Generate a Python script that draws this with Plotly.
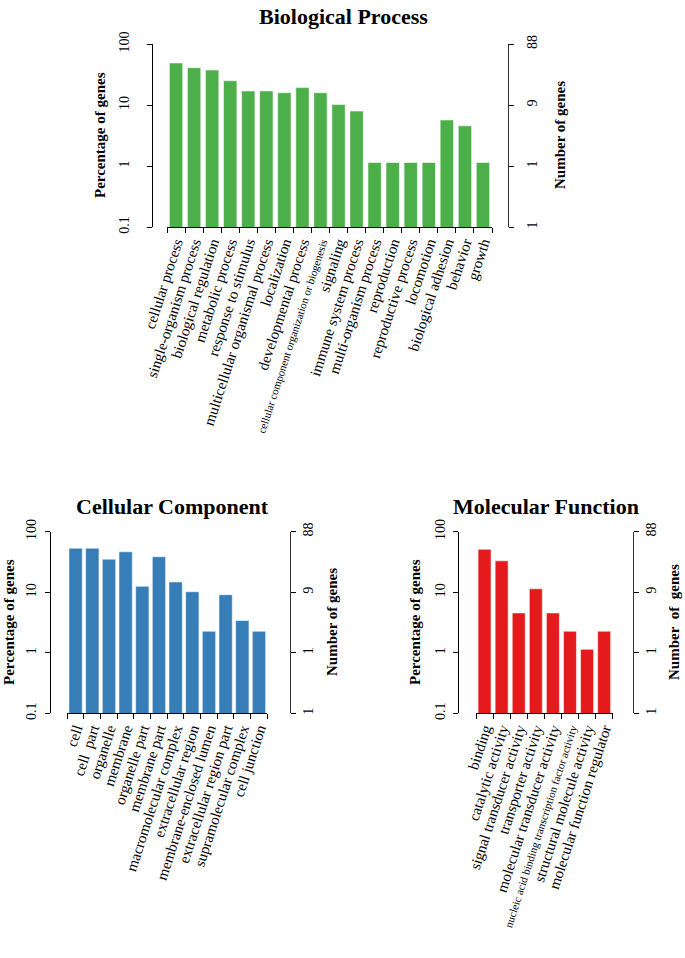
import plotly.graph_objects as go

# ---------------- data ----------------
bp_terms = ["cellular process", "single-organism process", "biological regulation",
            "metabolic process", "response to stimulus", "multicellular organismal process",
            "localization", "developmental process",
            "cellular component organization or biogenesis", "signaling",
            "immune system process", "multi-organism process", "reproduction",
            "reproductive process", "locomotion", "biological adhesion", "behavior", "growth"]
bp_pct = [48.9, 40.9, 37.5, 25.0, 17.0, 17.0, 15.9, 19.3, 15.9, 10.2,
          7.95, 1.14, 1.14, 1.14, 1.14, 5.68, 4.55, 1.14]

cc_terms = ["cell", "cell  part", "organelle", "membrane", "organelle part", "membrane part",
            "macromolecular complex", "extracellular region", "membrane-enclosed lumen",
            "extracellular region part", "supramolecular complex", "cell junction"]
cc_pct = [53.4, 53.4, 35.2, 46.6, 12.5, 38.6, 14.8, 10.2, 2.27, 9.09, 3.41, 2.27]

mf_terms = ["binding", "catalytic activity", "signal transducer activity",
            "transporter activity", "molecular transducer activity",
            "nucleic acid binding transcription factor activity",
            "structural molecule activity", "molecular function regulator"]
mf_pct = [51.1, 33.0, 4.55, 11.4, 4.55, 2.27, 1.14, 2.27]

pct_tickvals = [0.1, 1, 10, 100]
pct_ticktext = ["0.1", "1", "10", "100"]
num_ticktext = ["1", "1", "9", "88"]
small_terms = {"cellular component organization or biogenesis",
               "nucleic acid binding transcription factor activity"}

# ---------------- layout helpers ----------------
W, H = 685, 958
FONT = "Liberation Serif, Times New Roman, serif"


def fx(x):
    return x / W


def fy(y):
    return 1 - y / H


def label(t):
    small = t in small_terms
    t = t.replace("  ", "\u00a0 ")
    if small:
        return '<span style="font-size:11px">' + t + "</span>"
    return t


panels = [
    dict(terms=bp_terms, vals=bp_pct, color="#4DAF4A", width=0.74,
         xdom=(167, 492), ydom=(44, 227), ypos=152, y2pos=508,
         lso=12, rso=6,
         title="Biological Process", tpos=(343, 2),
         lt=(100, 135), rt=(560, 135), rtext="Number of genes"),
    dict(terms=cc_terms, vals=cc_pct, color="#377EB8", width=0.8,
         xdom=(67.3, 267.3), ydom=(531.7, 713.3), ypos=50, y2pos=290,
         lso=3, rso=0,
         title="Cellular Component", tpos=(172, 492),
         lt=(9, 622), rt=(332, 622), rtext="Number of genes"),
    dict(terms=mf_terms, vals=mf_pct, color="#E41A1C", width=0.76,
         xdom=(476, 612.7), ydom=(531.7, 713.3), ypos=458.3, y2pos=633.3,
         lso=3, rso=0,
         title="Molecular Function", tpos=(546, 492),
         lt=(415, 622), rt=(674, 622), rtext="Number\u00a0 of\u00a0 genes"),
]

fig = go.Figure()
annotations = []
layout = dict(width=W, height=H, margin=dict(l=0, r=0, t=0, b=0, pad=0, autoexpand=False),
              template="none",
              paper_bgcolor="white", plot_bgcolor="white", showlegend=False,
              font=dict(family=FONT, color="black", size=14))

for i, p in enumerate(panels):
    xn = "x" if i == 0 else f"x{i + 1}"
    yn = "y" if i == 0 else f"y{2 * i + 1}"
    y2n = f"y{2 * i + 2}"
    xkey = "xaxis" if i == 0 else f"xaxis{i + 1}"
    ykey = "yaxis" if i == 0 else f"yaxis{2 * i + 1}"
    y2key = f"yaxis{2 * i + 2}"

    fig.add_trace(go.Bar(x=p["terms"], y=p["vals"], xaxis=xn, yaxis=yn,
                         width=p["width"],
                         marker=dict(color=p["color"],
                                     line=dict(color="rgba(255,255,255,0.55)", width=1)),
                         hoverinfo="x+y"))
    fig.add_trace(go.Scatter(x=[p["terms"][0]], y=[1], xaxis=xn, yaxis=y2n,
                             mode="markers", marker=dict(opacity=0),
                             hoverinfo="skip"))

    layout[xkey] = dict(domain=[fx(p["xdom"][0]), fx(p["xdom"][1])], anchor=yn,
                        type="category", range=[-0.5, len(p["terms"]) - 0.5],
                        tickmode="array", tickvals=p["terms"],
                        ticktext=[label(t) for t in p["terms"]],
                        tickson="boundaries", ticks="outside", ticklen=5,
                        tickcolor="black", showline=True, linecolor="black",
                        linewidth=1, showgrid=False, tickangle=-72, automargin=False,
                        tickfont=dict(family=FONT, size=15, color="black"),
                        zeroline=False, fixedrange=True)
    layout[ykey] = dict(domain=[fy(p["ydom"][1]), fy(p["ydom"][0])], anchor="free",
                        position=fx(p["ypos"]), type="log", range=[-1, 2],
                        tickmode="array", tickvals=pct_tickvals, ticktext=pct_ticktext,
                        ticks="outside", ticklen=5, tickcolor="black",
                        ticklabelstandoff=p["lso"],
                        showline=True, linecolor="black", linewidth=1, automargin=False,
                        showgrid=False, zeroline=False, tickangle=-90,
                        tickfont=dict(family=FONT, size=14, color="black"),
                        fixedrange=True)
    layout[y2key] = dict(domain=[fy(p["ydom"][1]), fy(p["ydom"][0])], anchor="free",
                         overlaying=yn, side="right", automargin=False,
                         position=fx(p["y2pos"]), type="log", range=[-1, 2],
                         tickmode="array", tickvals=pct_tickvals, ticktext=num_ticktext,
                         ticks="outside", ticklen=5, tickcolor="black",
                         ticklabelstandoff=p["rso"],
                         showline=True, linecolor="#333333", linewidth=1,
                         showgrid=False, zeroline=False, tickangle=-90,
                         tickfont=dict(family=FONT, size=14, color="black"),
                         fixedrange=True)

    annotations.append(dict(text="<b>" + p["title"] + "</b>", xref="paper", yref="paper",
                            x=fx(p["tpos"][0]), y=fy(p["tpos"][1]), showarrow=False,
                            xanchor="center", yanchor="top",
                            font=dict(family=FONT, size=22, color="black")))
    annotations.append(dict(text="<b>Percentage of genes</b>", xref="paper", yref="paper",
                            x=fx(p["lt"][0]), y=fy(p["lt"][1]), showarrow=False,
                            textangle=-90, xanchor="center", yanchor="middle",
                            font=dict(family=FONT, size=15, color="black")))
    annotations.append(dict(text="<b>" + p["rtext"] + "</b>", xref="paper", yref="paper",
                            x=fx(p["rt"][0]), y=fy(p["rt"][1]), showarrow=False,
                            textangle=-90, xanchor="center", yanchor="middle",
                            font=dict(family=FONT, size=15, color="black")))

layout["annotations"] = annotations
fig.update_layout(**layout)
fig.write_html("out.html",
               config={"displayModeBar": False},
               post_script="document.body.style.margin='0px';"
                           "document.body.style.overflow='hidden';")
